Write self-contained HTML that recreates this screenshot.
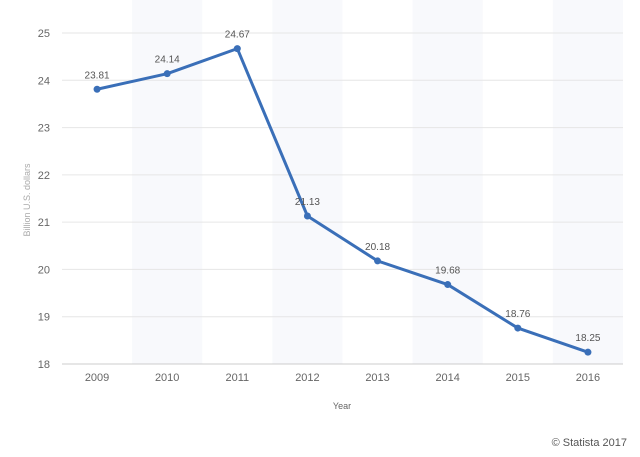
<!DOCTYPE html>
<html><head><meta charset="utf-8"><style>
body{margin:0;background:#fff;font-family:"Liberation Sans",sans-serif}
svg{display:block}
</style></head><body>
<svg width="640" height="457">
<g id="bands"></g><g id="grid"></g><g id="axes"></g><g id="series"></g><g id="labels"></g>
<text x="30" y="200" transform="rotate(-90 30 200)" text-anchor="middle" font-size="9" fill="#aaa">Billion U.S. dollars</text>
<text x="342" y="409" text-anchor="middle" font-size="9" fill="#666">Year</text>
<text x="627" y="446" text-anchor="end" font-size="11" fill="#555">© Statista 2017</text>
</svg>
<script>
const categories=["2009","2010","2011","2012","2013","2014","2015","2016"];
const values=[23.81,24.14,24.67,21.13,20.18,19.68,18.76,18.25];
const yTicks=[18,19,20,21,22,23,24,25];
const L=62,R=623,T=33,B=364,yMin=18,yMax=25;
const bw=(R-L)/categories.length;
const x=i=>L+bw*(i+0.5);
const y=v=>B-(v-yMin)/(yMax-yMin)*(B-T);
const NS="http://www.w3.org/2000/svg";
function mk(t,a,p){const e=document.createElementNS(NS,t);for(const k in a)e.setAttribute(k,a[k]);document.getElementById(p).appendChild(e);return e;}
categories.forEach((c,i)=>{
 if(i%2==1){const r=mk('rect',{x:L+bw*i,y:0,width:bw,height:B,fill:'#f8f9fc'},'bands');
 
 }
 const t=mk('text',{x:x(i),y:B+17,'text-anchor':'middle','font-size':11,fill:'#666'},'axes');t.textContent=c;
 
 
});
yTicks.forEach(v=>{
 const g=mk('line',{x1:L,x2:R,y1:y(v),y2:y(v),stroke:v==18?'#ccc':'#e6e6e6','stroke-width':1},'grid');
 
 
 const t=mk('text',{x:50,y:y(v)+4,'text-anchor':'end','font-size':11,fill:'#666'},'axes');t.textContent=v;
 
 
});
const p=mk('polyline',{points:values.map((v,i)=>x(i)+','+y(v)).join(' '),fill:'none',stroke:'#3a6fb8','stroke-width':3,'stroke-linejoin':'round'},'series');


values.forEach((v,i)=>{
 const c=mk('circle',{cx:x(i),cy:y(v),r:3.5,fill:'#3a6fb8'},'series');
 
 
 const t=mk('text',{x:x(i),y:y(v)-11,'text-anchor':'middle','font-size':10,fill:'#555'},'labels');t.textContent=v.toFixed(2);
 
 
});
</script>
</body></html>
